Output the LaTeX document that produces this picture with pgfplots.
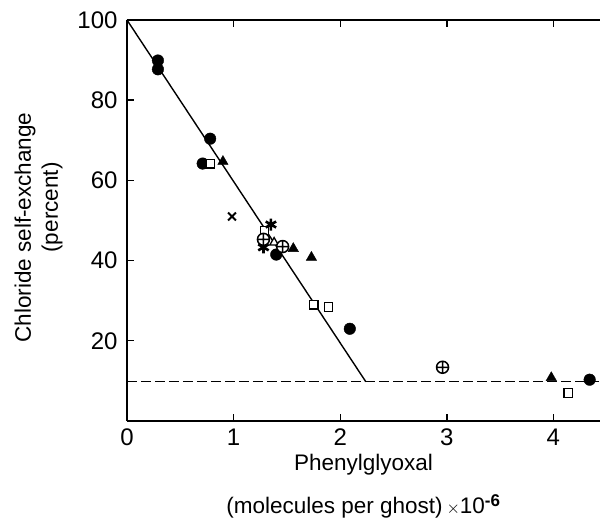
\documentclass[border=0pt]{standalone}
\usepackage{fontspec}
\setmainfont{Liberation Sans}
\usepackage{pgfplots}
\pgfplotsset{compat=1.18}
\begin{document}
\fontsize{22}{26}\selectfont
\begin{tikzpicture}
\begin{axis}[
  name=ax,
  scale only axis, width=473pt, height=401pt,
  xmin=0, xmax=4.437, ymin=0, ymax=100,
  axis x line=box, axis y line=left,
  y axis line style={-},
  axis line style={line width=1.4pt},
  tick style={line width=1.4pt, black},
  tick align=inside, major tick length=7pt,
  xtick={0,1,2,3,4}, ytick={20,40,60,80,100},
  /pgf/number format/assume math mode=true,
  tick label style={font=\fontsize{24}{28}\selectfont},
  label style={font=\fontsize{22.5}{27}\selectfont},
  xticklabel style={yshift=0pt},
  yticklabel style={xshift=-2pt},
  xlabel={Phenylglyoxal\\[16pt](molecules per ghost)\,{\fontsize{17}{17}\selectfont$\times$}10\textsuperscript{\textbf{\fontsize{17}{17}\selectfont -6}}},
  xlabel style={align=center, yshift=6pt},
  ylabel={Chloride self-exchange\\\hspace*{40pt}(percent)},
  ylabel style={align=center, xshift=-7pt},
  clip=false,
]
\addplot[black, line width=1.4pt] coordinates {(0,100) (2.24,9.8)};
\addplot[black, line width=1.3pt, dash pattern=on 10pt off 4pt] coordinates {(0,9.8) (4.437,9.8)};
% filled circles
\addplot[only marks, mark=*, mark size=5.8pt, black] coordinates {
(0.29,89.9) (0.29,87.7) (0.78,70.4) (0.71,64.2) (1.40,41.5) (2.09,23) (4.34,10.3)};
% open squares
\addplot[only marks, mark=square*, mark size=4.3pt, black, mark options={fill=white, line width=1.3pt}] coordinates {
(0.78,64.2) (1.29,47.5) (1.75,29) (1.89,28.4) (4.14,7)};
% filled triangles
\addplot[only marks, mark=triangle*, mark size=6pt, black] coordinates {
(0.90,64.7) (1.56,43) (1.73,40.8) (3.98,10.8)};
% open triangle
\addplot[only marks, mark=triangle*, mark size=5pt, black, mark options={fill=white, line width=1.3pt}] coordinates {
(1.38,44.5)};
% cross
\addplot[only marks, mark=x, mark size=5.5pt, black, mark options={line width=2pt}] coordinates {
(0.985,51)};
% asterisks
\addplot[only marks, mark=asterisk, mark size=6pt, black, mark options={line width=2.6pt}] coordinates {
(1.35,49) (1.28,43.3)};
% circled plus
\addplot[only marks, mark=oplus*, mark size=6pt, black, mark options={fill=white, line width=1.5pt}] coordinates {
(1.28,45.3) (1.46,43.5) (2.96,13.4)};
\end{axis}
\pgfresetboundingbox
\useasboundingbox ([shift={(-127pt,-97pt)}]ax.south west) rectangle ([shift={(0pt,20pt)}]ax.north east);
\end{tikzpicture}
\end{document}
